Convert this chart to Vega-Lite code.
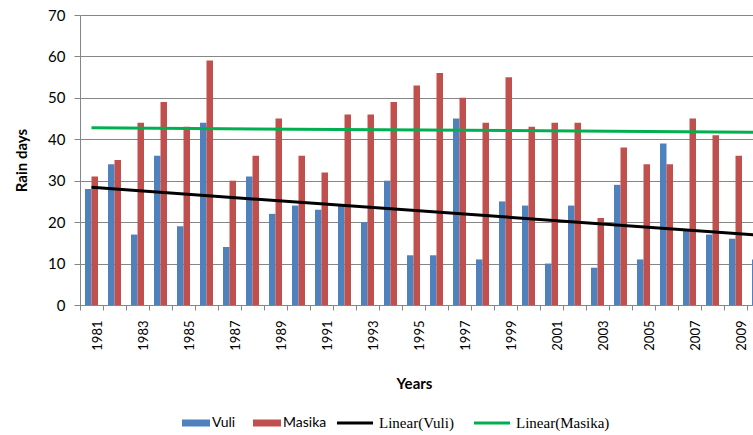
{
  "$schema": "https://vega.github.io/schema/vega-lite/v6.json",
  "autosize": "none",
  "padding": {"left": 80, "top": 15, "right": 0, "bottom": 130},
  "width": 690,
  "height": 290,
  "background": "white",
  "config": {
    "view": {"stroke": null},
    "font": "Lato",
    "axis": {
      "labelFont": "Lato", "titleFont": "Lato", "labelColor": "#000000",
      "titleColor": "#000000", "domainColor": "#868686", "tickColor": "#868686",
      "gridColor": "#868686", "gridOpacity": 1
    },
    "legend": {"padding": 0}
  },
  "data": {
    "values": [
      {"year": 1981, "series": "Vuli", "trend": "Linear(Vuli)", "value": 28},
      {"year": 1982, "series": "Vuli", "trend": "Linear(Vuli)", "value": 34},
      {"year": 1983, "series": "Vuli", "trend": "Linear(Vuli)", "value": 17},
      {"year": 1984, "series": "Vuli", "trend": "Linear(Vuli)", "value": 36},
      {"year": 1985, "series": "Vuli", "trend": "Linear(Vuli)", "value": 19},
      {"year": 1986, "series": "Vuli", "trend": "Linear(Vuli)", "value": 44},
      {"year": 1987, "series": "Vuli", "trend": "Linear(Vuli)", "value": 14},
      {"year": 1988, "series": "Vuli", "trend": "Linear(Vuli)", "value": 31},
      {"year": 1989, "series": "Vuli", "trend": "Linear(Vuli)", "value": 22},
      {"year": 1990, "series": "Vuli", "trend": "Linear(Vuli)", "value": 24},
      {"year": 1991, "series": "Vuli", "trend": "Linear(Vuli)", "value": 23},
      {"year": 1992, "series": "Vuli", "trend": "Linear(Vuli)", "value": 24},
      {"year": 1993, "series": "Vuli", "trend": "Linear(Vuli)", "value": 20},
      {"year": 1994, "series": "Vuli", "trend": "Linear(Vuli)", "value": 30},
      {"year": 1995, "series": "Vuli", "trend": "Linear(Vuli)", "value": 12},
      {"year": 1996, "series": "Vuli", "trend": "Linear(Vuli)", "value": 12},
      {"year": 1997, "series": "Vuli", "trend": "Linear(Vuli)", "value": 45},
      {"year": 1998, "series": "Vuli", "trend": "Linear(Vuli)", "value": 11},
      {"year": 1999, "series": "Vuli", "trend": "Linear(Vuli)", "value": 25},
      {"year": 2000, "series": "Vuli", "trend": "Linear(Vuli)", "value": 24},
      {"year": 2001, "series": "Vuli", "trend": "Linear(Vuli)", "value": 10},
      {"year": 2002, "series": "Vuli", "trend": "Linear(Vuli)", "value": 24},
      {"year": 2003, "series": "Vuli", "trend": "Linear(Vuli)", "value": 9},
      {"year": 2004, "series": "Vuli", "trend": "Linear(Vuli)", "value": 29},
      {"year": 2005, "series": "Vuli", "trend": "Linear(Vuli)", "value": 11},
      {"year": 2006, "series": "Vuli", "trend": "Linear(Vuli)", "value": 39},
      {"year": 2007, "series": "Vuli", "trend": "Linear(Vuli)", "value": 18},
      {"year": 2008, "series": "Vuli", "trend": "Linear(Vuli)", "value": 17},
      {"year": 2009, "series": "Vuli", "trend": "Linear(Vuli)", "value": 16},
      {"year": 2010, "series": "Vuli", "trend": "Linear(Vuli)", "value": 11},
      {"year": 1981, "series": "Masika", "trend": "Linear(Masika)", "value": 31},
      {"year": 1982, "series": "Masika", "trend": "Linear(Masika)", "value": 35},
      {"year": 1983, "series": "Masika", "trend": "Linear(Masika)", "value": 44},
      {"year": 1984, "series": "Masika", "trend": "Linear(Masika)", "value": 49},
      {"year": 1985, "series": "Masika", "trend": "Linear(Masika)", "value": 43},
      {"year": 1986, "series": "Masika", "trend": "Linear(Masika)", "value": 59},
      {"year": 1987, "series": "Masika", "trend": "Linear(Masika)", "value": 30},
      {"year": 1988, "series": "Masika", "trend": "Linear(Masika)", "value": 36},
      {"year": 1989, "series": "Masika", "trend": "Linear(Masika)", "value": 45},
      {"year": 1990, "series": "Masika", "trend": "Linear(Masika)", "value": 36},
      {"year": 1991, "series": "Masika", "trend": "Linear(Masika)", "value": 32},
      {"year": 1992, "series": "Masika", "trend": "Linear(Masika)", "value": 46},
      {"year": 1993, "series": "Masika", "trend": "Linear(Masika)", "value": 46},
      {"year": 1994, "series": "Masika", "trend": "Linear(Masika)", "value": 49},
      {"year": 1995, "series": "Masika", "trend": "Linear(Masika)", "value": 53},
      {"year": 1996, "series": "Masika", "trend": "Linear(Masika)", "value": 56},
      {"year": 1997, "series": "Masika", "trend": "Linear(Masika)", "value": 50},
      {"year": 1998, "series": "Masika", "trend": "Linear(Masika)", "value": 44},
      {"year": 1999, "series": "Masika", "trend": "Linear(Masika)", "value": 55},
      {"year": 2000, "series": "Masika", "trend": "Linear(Masika)", "value": 43},
      {"year": 2001, "series": "Masika", "trend": "Linear(Masika)", "value": 44},
      {"year": 2002, "series": "Masika", "trend": "Linear(Masika)", "value": 44},
      {"year": 2003, "series": "Masika", "trend": "Linear(Masika)", "value": 21},
      {"year": 2004, "series": "Masika", "trend": "Linear(Masika)", "value": 38},
      {"year": 2005, "series": "Masika", "trend": "Linear(Masika)", "value": 34},
      {"year": 2006, "series": "Masika", "trend": "Linear(Masika)", "value": 34},
      {"year": 2007, "series": "Masika", "trend": "Linear(Masika)", "value": 45},
      {"year": 2008, "series": "Masika", "trend": "Linear(Masika)", "value": 41},
      {"year": 2009, "series": "Masika", "trend": "Linear(Masika)", "value": 36},
      {"year": 2010, "series": "Masika", "trend": "Linear(Masika)", "value": 48}
    ]
  },
  "encoding": {
    "x": {
      "field": "year", "type": "ordinal",
      "scale": {"paddingInner": 0, "paddingOuter": 0},
      "axis": {
        "title": "Years", "titleFontSize": 15, "titleFontWeight": "bold",
        "titleX": 334, "titleY": 78, "titleBaseline": "middle",
        "labelAngle": -90, "labelFontSize": 13, "labelPadding": 10, "labelOffset": 6.5,
        "bandPosition": 0, "tickSize": 5, "grid": false,
        "labelExpr": "datum.value % 2 == 1 ? datum.label : ''"
      }
    },
    "y": {
      "field": "value", "type": "quantitative",
      "scale": {"domain": [0, 70]},
      "axis": {
        "title": "Rain days", "titleFontSize": 15, "titleFontWeight": "bold", "titlePadding": 18,
        "values": [0, 10, 20, 30, 40, 50, 60, 70], "labelFontSize": 15, "labelPadding": 9,
        "tickSize": 6
      }
    }
  },
  "layer": [
    {
      "mark": {"type": "bar"},
      "encoding": {
        "xOffset": {"field": "series", "type": "nominal", "sort": ["Vuli", "Masika"],
          "scale": {"paddingInner": 0, "paddingOuter": 0.77}},
        "color": {
          "field": "series", "type": "nominal",
          "scale": {"domain": ["Vuli", "Masika"], "range": ["#4F81BD", "#C0504D"]},
          "legend": {
            "title": null, "orient": "none", "direction": "horizontal",
            "legendX": 102, "legendY": 394,
            "symbolType": "M-1,-0.25H1V0.25H-1Z", "symbolSize": 784,
            "symbolStrokeWidth": 0, "labelFont": "Lato", "labelFontSize": 14,
            "labelOffset": 2, "columnPadding": 17
          }
        }
      }
    },
    {
      "transform": [
        {"regression": "value", "on": "year", "groupby": ["trend"], "method": "linear"}
      ],
      "mark": {"type": "line", "strokeWidth": 3},
      "encoding": {
        "stroke": {
          "field": "trend", "type": "nominal",
          "scale": {"domain": ["Linear(Vuli)", "Linear(Masika)"], "range": ["#000000", "#00B050"]},
          "legend": {
            "title": null, "orient": "none", "direction": "horizontal",
            "legendX": 255, "legendY": 388,
            "symbolType": "stroke", "symbolSize": 1300, "symbolStrokeWidth": 3,
            "labelFont": "Liberation Serif", "labelFontSize": 15,
            "labelOffset": 4, "columnPadding": 13
          }
        }
      }
    }
  ]
}
